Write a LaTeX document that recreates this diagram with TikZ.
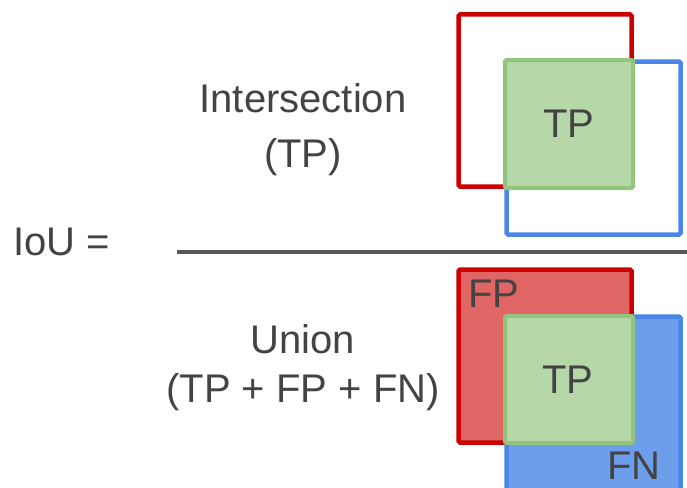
\documentclass[tikz,border=0pt]{standalone}
\usepackage{fontspec}
\setmainfont{Liberation Sans}
\usepackage{xcolor}
\definecolor{boxred}{HTML}{CC0000}
\definecolor{boxredfill}{HTML}{E06666}
\definecolor{boxblue}{HTML}{4A86E8}
\definecolor{boxbluefill}{HTML}{6D9EEB}
\definecolor{tpgreen}{HTML}{93C47D}
\definecolor{tpfill}{HTML}{B6D7A8}
\definecolor{bargray}{HTML}{595959}
\definecolor{textgray}{HTML}{434343}

\begin{document}
\begin{tikzpicture}[x=1pt, y=-1pt,
    txt/.style={inner sep=0pt, anchor=base, text=textgray, font=\fontsize{40}{48}\selectfont},
    redbox/.style={draw=boxred, line width=4.5pt, rounded corners=1.5pt},
    bluebox/.style={draw=boxblue, line width=4.5pt, rounded corners=1.5pt},
    tpbox/.style={draw=tpgreen, fill=tpfill, line width=4pt, rounded corners=1.5pt}]

    \useasboundingbox (0,0) rectangle (687,487);
    \clip (0,0) rectangle (687,487);

    % Left hand side
    \node[txt, anchor=base west] (iou) at (13,255) {IoU =};

    % Fraction bar
    \coordinate (barl) at (177,252);
    \coordinate (barr) at (690,252);
    \draw[bargray, line width=4pt] (barl) -- (barr);

    % Numerator text
    \node[txt] (inter) at (303,112) {Intersection};
    \node[txt] (intertp) at (303,167) {(TP)};

    % Denominator text
    \node[txt] (union) at (303,353) {Union};
    \node[txt] (unionsum) at (303,402) {(TP + FP + FN)};

    % Intersection boxes
    \draw[redbox] (458.5,14.5) rectangle (631.5,186.5);
    \draw[bluebox] (506.5,61.5) rectangle (680.5,234.5);
    \draw[tpbox] (505,60) rectangle (633,188);
    \node[txt] (tptop) at (569,137) {TP};

    % Union boxes
    \draw[redbox, fill=boxredfill] (458.5,269.5) rectangle (631.5,442.5);
    \draw[bluebox, fill=boxbluefill] (506.5,316.5) rectangle (680.5,490.5);
    \draw[tpbox] (505,316) rectangle (633,443);
    \node[txt] (tpbot) at (568,393) {TP};
    \node[txt, anchor=base west] (fp) at (468,307) {FP};
    \node[txt, anchor=base west] (fn) at (607,479) {FN};

\end{tikzpicture}
\end{document}
